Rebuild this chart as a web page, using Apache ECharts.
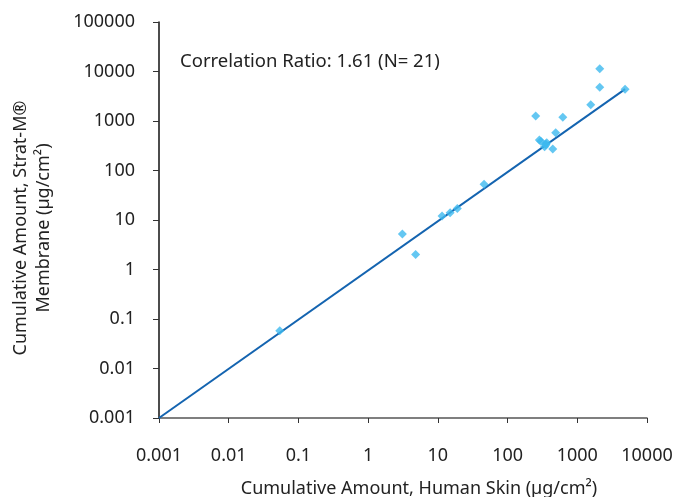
<!DOCTYPE HTML>
<html>
<head>
    <meta charset="utf-8">
    <title>Strat-M vs Human Skin</title>
    <style>
        html, body { margin: 0; padding: 0; background: #fff; }
        #chart { width: 675px; height: 497px; }
    </style>
</head>
<body>
<div id="chart"></div>
<script type="text/javascript" src="https://cdn.jsdelivr.net/npm/echarts@6/dist/echarts.min.js"></script>
<script type="text/javascript">
    // human skin (x) vs Strat-M membrane (y), µg/cm²
    var skinValues = [0.054, 3.1, 4.8, 11.5, 15, 19, 46, 2100, 2100, 4850, 1560, 253, 620, 286, 490, 365, 340, 445, 355, 350, 300];
    var stratValues = [0.058, 5.2, 2.0, 12, 14, 17, 53, 11400, 4800, 4400, 2130, 1260, 1190, 413, 580, 365, 303, 272, 330, 345, 390];
    // trend line end points
    var lineX = [0.001, 4850];
    var lineY = [0.001, 4400];

    var points = [];
    for (var i = 0; i < skinValues.length; i++) {
        points.push([skinValues[i], stratValues[i]]);
    }
    var linePoints = [[lineX[0], lineY[0]], [lineX[1], lineY[1]]];

    var font = 'Noto Sans';
    var tickFormat = function (v) {
        return String(Number(v.toPrecision(1)));
    };

    var myChart = echarts.init(document.getElementById('chart'));
    var option = {
        animation: false,
        textStyle: {fontFamily: font},
        title: {
            text: 'Correlation Ratio: 1.61 (N= 21)',
            left: 175,
            top: 47,
            textStyle: {fontFamily: font, fontSize: 18.5, fontWeight: 'normal', color: '#222'}
        },
        grid: {left: 159, right: 28, top: 22, bottom: 79, outerBoundsMode: 'none'},
        xAxis: {
            type: 'log',
            logBase: 10,
            min: 0.001,
            max: 10000,
            name: 'Cumulative Amount, Human Skin (µg/cm²)',
            nameLocation: 'middle',
            nameGap: 62,
            nameTextStyle: {fontFamily: font, fontSize: 18, color: '#222', padding: [0, 0, 0, 32]},
            axisLine: {lineStyle: {color: '#555', width: 1.5}},
            axisTick: {length: 5, lineStyle: {color: '#333'}},
            splitLine: {show: false},
            minorTick: {show: false},
            axisLabel: {fontFamily: font, fontSize: 18, color: '#222', margin: 29, formatter: tickFormat}
        },
        yAxis: {
            type: 'log',
            logBase: 10,
            min: 0.001,
            max: 100000,
            name: 'Cumulative Amount, Strat-M®\nMembrane (µg/cm²)',
            nameLocation: 'middle',
            nameRotate: 90,
            nameGap: 104,
            nameTextStyle: {fontFamily: font, fontSize: 18, color: '#222', lineHeight: 23, padding: [0, 16, 0, 0]},
            axisLine: {lineStyle: {color: '#111', width: 1.5}},
            axisTick: {length: 6, lineStyle: {color: '#333'}},
            splitLine: {show: false},
            axisLabel: {fontFamily: font, fontSize: 18, color: '#222', margin: 24, formatter: tickFormat}
        },
        series: [
            {
                type: 'line',
                data: linePoints,
                symbol: 'none',
                lineStyle: {color: '#1464b0', width: 2},
                z: 2
            },
            {
                type: 'scatter',
                data: points,
                symbol: 'diamond',
                symbolSize: 9,
                itemStyle: {color: '#3db9ef'},
                z: 3
            }
        ]
    };
    myChart.setOption(option);
</script>
</body>
</html>
